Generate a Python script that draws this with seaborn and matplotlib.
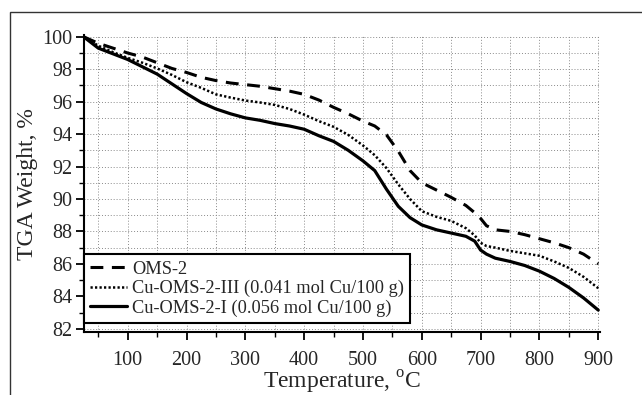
import matplotlib
matplotlib.use("Agg")
import matplotlib.pyplot as plt
from matplotlib.patches import Rectangle
from matplotlib.ticker import MultipleLocator
import seaborn as sns
import pandas as pd

# ---- data ----
temps = [25, 50, 75, 100, 125, 150, 175, 200, 225, 250, 275, 300, 325, 350, 375,
         400, 425, 450, 475, 500, 520, 540, 560, 580, 600, 625, 650, 675, 690,
         700, 710, 725, 750, 775, 800, 825, 850, 875, 900]
oms2 = [100.0, 99.6, 99.3, 99.0, 98.75, 98.4, 98.05, 97.8, 97.5, 97.3, 97.15, 97.05,
        96.95, 96.8, 96.65, 96.45, 96.1, 95.65, 95.25, 94.8, 94.5, 93.95, 92.95,
        91.75, 91.0, 90.55, 90.1, 89.6, 89.15, 88.8, 88.35, 88.1, 88.0, 87.8,
        87.55, 87.3, 87.0, 86.6, 86.0]
cu_iii = [100.0, 99.45, 99.05, 98.7, 98.4, 98.05, 97.65, 97.2, 96.85, 96.45, 96.25,
          96.07, 95.95, 95.8, 95.55, 95.2, 94.8, 94.45, 93.95, 93.3, 92.7, 91.9,
          90.9, 90.0, 89.25, 88.9, 88.65, 88.2, 87.75, 87.3, 87.1, 87.0, 86.8,
          86.65, 86.5, 86.15, 85.75, 85.2, 84.5]
cu_i = [100.0, 99.3, 98.95, 98.6, 98.15, 97.7, 97.1, 96.5, 95.95, 95.55, 95.25,
        95.0, 94.85, 94.65, 94.5, 94.3, 93.9, 93.55, 93.0, 92.35, 91.75, 90.6,
        89.55, 88.85, 88.4, 88.1, 87.9, 87.7, 87.4, 86.85, 86.6, 86.35, 86.15,
        85.9, 85.55, 85.1, 84.55, 83.9, 83.15]
labels = ["OMS-2", "Cu-OMS-2-III (0.041 mol Cu/100 g)", "Cu-OMS-2-I (0.056 mol Cu/100 g)"]
x_ticks = [100, 200, 300, 400, 500, 600, 700, 800, 900]
y_ticks = [82, 84, 86, 88, 90, 92, 94, 96, 98, 100]

sns.set_theme(style="white")
plt.rcParams["font.family"] = ["Liberation Serif", "DejaVu Serif"]
plt.rcParams["mathtext.fontset"] = "custom"
plt.rcParams["mathtext.rm"] = "Liberation Serif"

fig = plt.figure(figsize=(6.42, 3.95), dpi=100)
ax = fig.add_axes([0.1302, 0.1595, 0.9346 - 0.1302, 0.911 - 0.1595])

df = pd.DataFrame({"T": temps, "a": oms2, "b": cu_iii, "c": cu_i})
sns.lineplot(data=df, x="T", y="a", ax=ax, color="black", lw=2.2,
             linestyle=(0, (4.2, 2.8)), label=labels[0])
sns.lineplot(data=df, x="T", y="b", ax=ax, color="black", lw=1.8,
             linestyle=(0, (0.9, 0.9)), label=labels[1])
sns.lineplot(data=df, x="T", y="c", ax=ax, color="black", lw=2.3,
             linestyle="-", label=labels[2])

ax.set_xlim(25, 903)
ax.set_ylim(81.8, 100.1)
ax.set_xticks(x_ticks)
ax.set_yticks(y_ticks)
ax.xaxis.set_minor_locator(MultipleLocator(50))
ax.yaxis.set_minor_locator(MultipleLocator(1))

ax.grid(True, which="both", color="#8a8a8a", lw=0.7, linestyle=(0, (1, 2)))
ax.set_axisbelow(True)

for s in ["top", "right"]:
    ax.spines[s].set_visible(False)
for s in ["left", "bottom"]:
    ax.spines[s].set_visible(True)
    ax.spines[s].set_color("black")
    ax.spines[s].set_linewidth(1.5)

ax.tick_params(axis="both", which="major", direction="out", length=6, width=1.3,
               color="black", labelsize=14.5, pad=2, left=True, bottom=True)
ax.tick_params(axis="both", which="minor", direction="out", length=3.5, width=1.0,
               color="black", left=True, bottom=True)
ax.tick_params(axis="x", which="major", pad=8)

ax.set_xlabel(r"Temperature, $^{\mathrm{o}}$C", fontsize=17, labelpad=-1)
ax.set_ylabel("TGA Weight, %", fontsize=17, labelpad=3)

leg = ax.legend(loc="lower left", bbox_to_anchor=(0.0, 0.03), fontsize=13.2,
                frameon=True, fancybox=False, edgecolor="black", framealpha=1,
                handlelength=2.0, handletextpad=0.3, borderpad=0.35,
                labelspacing=0.12, borderaxespad=0.0)
leg.get_frame().set_linewidth(1.5)

fig.add_artist(Rectangle((10 / 642, -0.02), 1.1, 1 - 12.5 / 395 + 0.02,
                         transform=fig.transFigure, fill=False,
                         edgecolor="#333333", lw=1.0))

fig.savefig("out.png", dpi=100)
